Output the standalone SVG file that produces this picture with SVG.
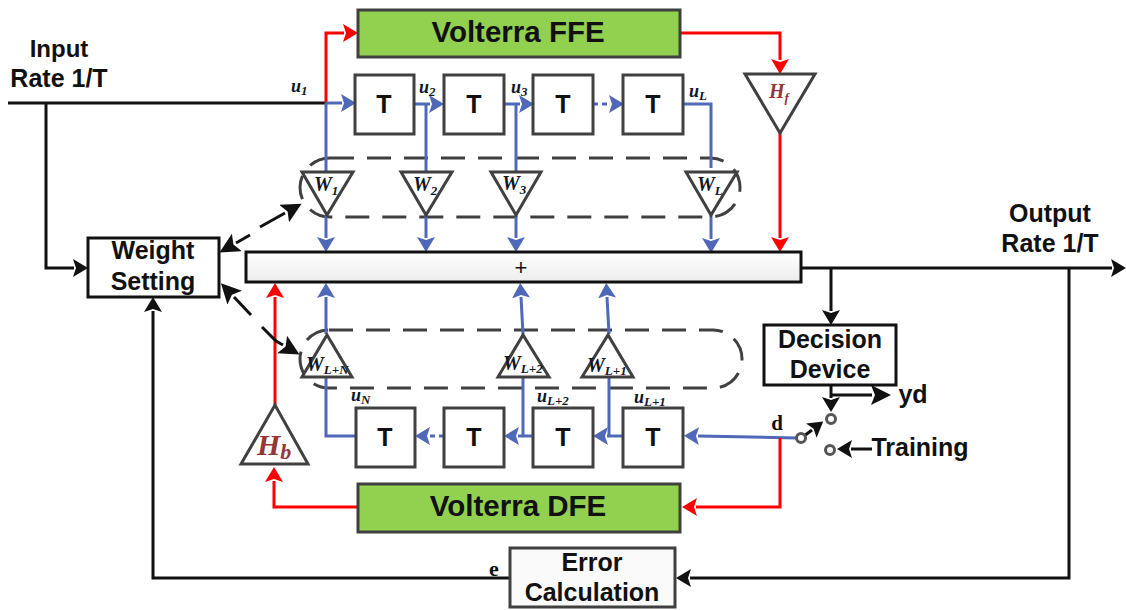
<svg xmlns="http://www.w3.org/2000/svg" width="1126" height="610" viewBox="0 0 1126 610">
<style>
.t{font-family:"Liberation Sans",Arial,sans-serif;font-weight:bold;fill:#111;text-anchor:middle}
.m{font-family:"Liberation Serif","Times New Roman",serif;font-weight:bold;font-style:italic;fill:#101828}
.sub{font-size:13px}
.box{fill:#fff;stroke:#404040;stroke-width:3}
.blk{fill:#fff;stroke:#111;stroke-width:3}
.gr{fill:#92d050;stroke:#404040;stroke-width:3}
.tri{fill:#fff;stroke:#404040;stroke-width:3;stroke-linejoin:miter}
.c{fill:none;stroke-width:3}
.k{stroke:#111}
.b{stroke:#4f68b8}
.r{stroke:#ff0000}
.dash{fill:none;stroke:#404040;stroke-width:3;stroke-dasharray:24 13}
</style>
<defs>
<linearGradient id="bar" x1="0" y1="0" x2="0" y2="1"><stop offset="0" stop-color="#fff"/><stop offset="1" stop-color="#ececec"/></linearGradient>
<marker id="ak" markerUnits="userSpaceOnUse" markerWidth="20" markerHeight="20" refX="1" refY="9" orient="auto"><path d="M0 0L15 9L0 18L3 9Z" fill="#111"/></marker>
<marker id="ab" markerUnits="userSpaceOnUse" markerWidth="20" markerHeight="20" refX="1" refY="9" orient="auto"><path d="M0 0L15 9L0 18L3 9Z" fill="#4f68b8"/></marker>
<marker id="ar" markerUnits="userSpaceOnUse" markerWidth="20" markerHeight="20" refX="1" refY="9" orient="auto"><path d="M0 0L15 9L0 18L3 9Z" fill="#ff0000"/></marker>
<marker id="akl" markerUnits="userSpaceOnUse" markerWidth="24" markerHeight="24" refX="1" refY="10" orient="auto"><path d="M0 0L20 10L0 20L4 10Z" fill="#111"/></marker>
</defs>
<g id="dashed-groups">
<rect class="dash" x="300" y="158" width="440" height="59" rx="30"/>
<rect class="dash" x="300" y="330" width="442" height="58" rx="29"/>
</g>
<g id="connectors">
<path class="c k" d="M8 103H326"/>
<path class="c k" d="M46 103V268H74" marker-end="url(#ak)"/>
<path class="c r" d="M326 103V33H344" marker-end="url(#ar)"/>
<path class="c r" d="M680 33H780V60" marker-end="url(#ar)"/>
<path class="c r" d="M780 133V238" marker-end="url(#ar)"/>
<path class="c b" d="M326 103H342" marker-end="url(#ab)"/>
<path class="c b" d="M326 103V172"/>
<path class="c b" d="M414 104H430" marker-end="url(#ab)"/>
<path class="c b" d="M426 104V172"/>
<path class="c b" d="M504 104H520" marker-end="url(#ab)"/>
<path class="c b" d="M516 104V172"/>
<path class="c b" d="M593 104H610" stroke-dasharray="5 4" marker-end="url(#ab)"/>
<path class="c b" d="M683 104H711V168"/>
<path class="c b" d="M326 215V238" marker-end="url(#ab)"/>
<path class="c b" d="M426 215V238" marker-end="url(#ab)"/>
<path class="c b" d="M516 215V238" marker-end="url(#ab)"/>
<path class="c b" d="M711 215V239" marker-end="url(#ab)"/>
<path class="c b" d="M326 334V297" marker-end="url(#ab)"/>
<path class="c b" d="M523 334L521 297" marker-end="url(#ab)"/>
<path class="c b" d="M609 334L607 297" marker-end="url(#ab)"/>
<path class="c b" d="M326 377V436H356"/>
<path class="c b" d="M523 377V436"/>
<path class="c b" d="M609 377V436"/>
<path class="c b" d="M533 436H518" marker-end="url(#ab)"/>
<path class="c b" d="M623 436H607" marker-end="url(#ab)"/>
<path class="c b" d="M444 436H429" stroke-dasharray="5 4" marker-end="url(#ab)"/>
<path class="c b" d="M797 438L698 436" marker-end="url(#ab)"/>
<path class="c r" d="M780 438V507H696" marker-end="url(#ar)"/>
<path class="c r" d="M358 507H274V481" marker-end="url(#ar)"/>
<path class="c r" d="M275 405V297" marker-end="url(#ar)"/>
<path class="c k" d="M801 268H1112" marker-end="url(#ak)"/>
<path class="c k" d="M831 268V311" marker-end="url(#ak)"/>
<path class="c k" d="M1069 268V578H690" marker-end="url(#ak)"/>
<path class="c k" d="M510 578H153V311" marker-end="url(#ak)"/>
<path class="c k" d="M831 385V398" marker-end="url(#ak)"/>
<path class="c k" d="M831 395H872" marker-end="url(#akl)"/>
<path class="c k" d="M804 436L812 430" marker-end="url(#ak)"/>
<path class="c k" d="M872 449H851" marker-end="url(#ak)"/>
<path class="c k" d="M250 235L236 243" marker-end="url(#akl)"/>
<path class="c k" d="M260 227L285 213" marker-end="url(#akl)"/>
<path class="c k" d="M251 315L234 297" marker-end="url(#akl)"/>
<path class="c k" d="M262 327L276 341L283 345" marker-end="url(#akl)"/>
</g>
<g id="volterra-ffe"><rect class="gr" x="358" y="10" width="322" height="47"/><text class="t" x="518" y="42" font-size="29.5">Volterra FFE</text></g>
<g id="volterra-dfe"><rect class="gr" x="358" y="484" width="322" height="48"/><text class="t" x="518" y="516" font-size="29.5">Volterra DFE</text></g>
<g id="t1"><rect class="box" x="355" y="75" width="59" height="59"/><text class="t" x="384" y="113" font-size="25">T</text></g>
<g id="t2"><rect class="box" x="444" y="75" width="60" height="59"/><text class="t" x="474" y="113" font-size="25">T</text></g>
<g id="t3"><rect class="box" x="533" y="75" width="60" height="59"/><text class="t" x="563" y="113" font-size="25">T</text></g>
<g id="t4"><rect class="box" x="623" y="75" width="60" height="59"/><text class="t" x="653" y="113" font-size="25">T</text></g>
<g id="t5"><rect class="box" x="356" y="408" width="59" height="59"/><text class="t" x="385" y="446" font-size="25">T</text></g>
<g id="t6"><rect class="box" x="444" y="408" width="60" height="59"/><text class="t" x="474" y="446" font-size="25">T</text></g>
<g id="t7"><rect class="box" x="533" y="408" width="60" height="59"/><text class="t" x="563" y="446" font-size="25">T</text></g>
<g id="t8"><rect class="box" x="623" y="408" width="60" height="59"/><text class="t" x="653" y="446" font-size="25">T</text></g>
<g id="w1"><path class="tri" d="M302 172H353L327 215Z"/><text class="m" x="314" y="191" font-size="20">W<tspan class="sub" dy="4">1</tspan></text></g>
<g id="w2"><path class="tri" d="M401 172H452L426 215Z"/><text class="m" x="413" y="191" font-size="20">W<tspan class="sub" dy="4">2</tspan></text></g>
<g id="w3"><path class="tri" d="M491 172H541L516 215Z"/><text class="m" x="502" y="190" font-size="20">W<tspan class="sub" dy="4">3</tspan></text></g>
<g id="wl"><path class="tri" d="M686 172H737L711 215Z"/><text class="m" x="697" y="191" font-size="20">W<tspan class="sub" dy="4">L</tspan></text></g>
<g id="wln"><path class="tri" d="M302 377H352L327 335Z"/><text class="m" x="306" y="371" font-size="20">W<tspan class="sub" dy="3">L+N</tspan></text></g>
<g id="wl2"><path class="tri" d="M498 377H549L523 335Z"/><text class="m" x="503" y="370" font-size="20">W<tspan class="sub" dy="3">L+2</tspan></text></g>
<g id="wl1"><path class="tri" d="M582 377H633L608 335Z"/><text class="m" x="587" y="372" font-size="20">W<tspan class="sub" dy="3">L+1</tspan></text></g>
<g id="hf"><path class="tri" d="M745 74H815L780 133Z"/><text class="m" x="769" y="98" font-size="20" style="fill:#953735">H<tspan font-size="13" dy="4">f</tspan></text></g>
<g id="hb"><path class="tri" d="M241 464H308L275 405Z"/><text class="m" x="257" y="455" font-size="30" style="fill:#953735">H<tspan font-size="22" dy="4">b</tspan></text></g>
<g id="sum"><rect x="246" y="252" width="555" height="30" fill="url(#bar)" stroke="#111" stroke-width="3"/><text class="t" x="521" y="275" font-size="22" style="font-weight:normal">+</text></g>
<g id="weight-setting"><rect class="blk" x="88" y="238" width="131" height="59"/><text class="t" x="153" y="259" font-size="25">Weight</text><text class="t" x="153" y="290" font-size="25">Setting</text></g>
<g id="decision-device"><rect class="blk" x="764" y="325" width="132" height="60"/><text class="t" x="830" y="348" font-size="25">Decision</text><text class="t" x="830" y="378" font-size="25">Device</text></g>
<g id="error-calculation"><rect x="510" y="548" width="165" height="59" fill="#fafafa" stroke="#404040" stroke-width="3"/><text class="t" x="592" y="571" font-size="25">Error</text><text class="t" x="592" y="601" font-size="25">Calculation</text></g>
<g id="switch" fill="#fff" stroke="#555" stroke-width="3"><circle cx="801" cy="438" r="4.5"/><circle cx="831" cy="419" r="4.5"/><circle cx="830" cy="450" r="4.5"/></g>
<g id="labels">
<text class="t" x="59" y="57" font-size="24">Input</text>
<text class="t" x="59" y="87" font-size="25">Rate 1/T</text>
<text class="t" x="1050" y="222" font-size="25">Output</text>
<text class="t" x="1050" y="252" font-size="25">Rate 1/T</text>
<text class="t" x="913" y="403" font-size="25">yd</text>
<text class="t" x="920" y="456" font-size="25">Training</text>
<text class="t" x="494" y="576" font-size="22" style="font-family:'Liberation Serif',serif">e</text>
<text class="t" x="777" y="430" font-size="21" style="font-family:'Liberation Serif',serif">d</text>
<text class="m" x="291" y="92" font-size="18">u<tspan class="sub" dy="3">1</tspan></text>
<text class="m" x="419" y="93" font-size="18">u<tspan class="sub" dy="3">2</tspan></text>
<text class="m" x="511" y="93" font-size="18">u<tspan class="sub" dy="3">3</tspan></text>
<text class="m" x="689" y="97" font-size="18">u<tspan class="sub" dy="3">L</tspan></text>
<text class="m" x="351" y="401" font-size="18">u<tspan class="sub" dy="3">N</tspan></text>
<text class="m" x="537" y="402" font-size="18">u<tspan class="sub" dy="3">L+2</tspan></text>
<text class="m" x="634" y="403" font-size="18">u<tspan class="sub" dy="3">L+1</tspan></text>
</g>
</svg>
